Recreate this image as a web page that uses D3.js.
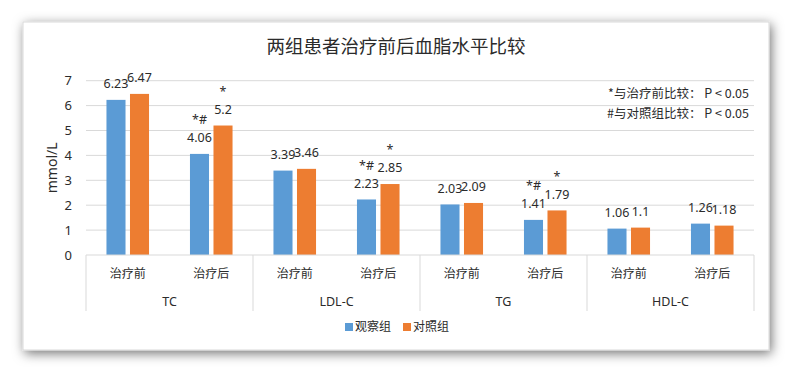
<!DOCTYPE html>
<html>
<head>
<meta charset="utf-8">
<script src="https://cdn.jsdelivr.net/npm/d3@7"></script>
<style>
  body { margin: 0; background: #fff; }
  svg text { font-family: "Segoe UI", "Noto Sans", "Noto Sans CJK SC", sans-serif; fill: #2b2b2b; }
  .cjk { font-family: "Noto Sans CJK SC", "Microsoft YaHei", sans-serif; }
</style>
</head>
<body>
<div id="chart"></div>
<script>
var w = 792;
var h = 373;

// data
var groups = ["TC", "LDL-C", "TG", "HDL-C"];
var phases = ["治疗前", "治疗后"];
var seriesNames = ["观察组", "对照组"];
var observe = [6.23, 4.06, 3.39, 2.23, 2.03, 1.41, 1.06, 1.26];
var control = [6.47, 5.2, 3.46, 2.85, 2.09, 1.79, 1.1, 1.18];
var observeMarks = ["", "*#", "", "*#", "", "*#", "", ""];
var controlMarks = ["", "*", "", "*", "", "*", "", ""];
var yTicks = [0, 1, 2, 3, 4, 5, 6, 7];
var notes = ["*与治疗前比较： P < 0.05", "#与对照组比较： P < 0.05"];
var colors = ["#5B9BD5", "#ED7D31"];

var box = {x: 23, y: 22, w: 746, h: 328};
var plot = {left: 86, right: 754, top: 80.7, bottom: 255};

var svg = d3.select("#chart")
            .append("svg")
            .attr("width", w)
            .attr("height", h);

// shadow for the chart box
var filter = svg.append("defs").append("filter")
    .attr("id", "shadow")
    .attr("x", "-10%").attr("y", "-10%")
    .attr("width", "120%").attr("height", "125%");
filter.append("feDropShadow")
    .attr("dx", 2).attr("dy", 3)
    .attr("stdDeviation", 6)
    .attr("flood-color", "#000")
    .attr("flood-opacity", 0.55);

svg.append("rect")
    .attr("x", box.x).attr("y", box.y)
    .attr("width", box.w).attr("height", box.h)
    .attr("fill", "#fff")
    .attr("stroke", "#d9d9d9")
    .attr("filter", "url(#shadow)");

// sub categories: group|phase
var subCats = [];
groups.forEach(function(g) {
    phases.forEach(function(p) { subCats.push(g + "|" + p); });
});

var rows = subCats.map(function(k, i) {
    return {key: k, group: k.split("|")[0], phase: k.split("|")[1],
            values: [observe[i], control[i]], marks: [observeMarks[i], controlMarks[i]]};
});

// scales
var xScale = d3.scaleBand()
    .domain(subCats)
    .range([plot.left, plot.right]);
var groupScale = d3.scaleBand()
    .domain(groups)
    .range([plot.left, plot.right]);
var innerScale = d3.scaleBand()
    .domain(seriesNames)
    .range([0, xScale.bandwidth()])
    .paddingInner(0.19)
    .paddingOuter(0.87);
var yScale = d3.scaleLinear()
    .domain([0, 7])
    .range([plot.bottom, plot.top]);

// gridlines
svg.append("g")
    .selectAll("line")
    .data(yTicks.slice(1))
    .enter()
    .append("line")
    .attr("x1", plot.left).attr("x2", plot.right)
    .attr("y1", function(d) { return yScale(d); })
    .attr("y2", function(d) { return yScale(d); })
    .attr("stroke", "#d9d9d9");

// y axis labels
var yAxis = d3.axisLeft(yScale)
    .tickValues(yTicks)
    .tickSize(0)
    .tickPadding(14)
    .tickFormat(d3.format("d"));
var yG = svg.append("g")
    .attr("transform", "translate(" + plot.left + ",0)")
    .call(yAxis);
yG.select(".domain").remove();
yG.selectAll("text").attr("font-size", 13).attr("fill", "#2b2b2b");

svg.append("text")
    .attr("transform", "translate(52," + (plot.top + plot.bottom) / 2 + ") rotate(-90)")
    .attr("text-anchor", "middle")
    .attr("dy", "0.35em")
    .attr("font-size", 14)
    .text("mmol/L");

// bars
var barG = svg.append("g")
    .selectAll("g")
    .data(rows)
    .enter()
    .append("g")
    .attr("transform", function(d) { return "translate(" + xScale(d.key) + ",0)"; });

barG.selectAll("rect")
    .data(function(d) { return d.values.map(function(v, j) { return {s: seriesNames[j], v: v, j: j}; }); })
    .enter()
    .append("rect")
    .attr("x", function(d) { return innerScale(d.s); })
    .attr("y", function(d) { return yScale(d.v); })
    .attr("width", innerScale.bandwidth())
    .attr("height", function(d) { return plot.bottom - yScale(d.v); })
    .attr("fill", function(d) { return colors[d.j]; });

// value labels
var labelG = barG.selectAll("g.lab")
    .data(function(d) { return d.values.map(function(v, j) { return {s: seriesNames[j], v: v, m: d.marks[j]}; }); })
    .enter()
    .append("g")
    .attr("class", "lab")
    .attr("transform", function(d) {
        return "translate(" + (innerScale(d.s) + innerScale.bandwidth() / 2) + "," + (yScale(d.v) - 16) + ")";
    });
labelG.append("text")
    .attr("text-anchor", "middle")
    .attr("dy", "0.35em")
    .attr("font-size", 12.5)
    .text(function(d) { return d.v; });
labelG.append("text")
    .attr("text-anchor", "middle")
    .attr("y", -18)
    .attr("dy", "0.35em")
    .attr("font-size", 12.5)
    .text(function(d) { return d.m; });

// category axis
svg.append("line")
    .attr("x1", plot.left).attr("x2", plot.right)
    .attr("y1", plot.bottom).attr("y2", plot.bottom)
    .attr("stroke", "#d9d9d9");
svg.append("g")
    .selectAll("line")
    .data(groups.concat(["end"]))
    .enter()
    .append("line")
    .attr("x1", function(d) { return d === "end" ? plot.right : groupScale(d); })
    .attr("x2", function(d) { return d === "end" ? plot.right : groupScale(d); })
    .attr("y1", plot.bottom)
    .attr("y2", 311)
    .attr("stroke", "#d9d9d9");

svg.append("g")
    .selectAll("text")
    .data(rows)
    .enter()
    .append("text")
    .attr("class", "cjk")
    .attr("x", function(d) { return xScale(d.key) + xScale.bandwidth() / 2; })
    .attr("y", 274)
    .attr("dy", "0.35em")
    .attr("text-anchor", "middle")
    .attr("font-size", 12)
    .text(function(d) { return d.phase; });

svg.append("g")
    .selectAll("text")
    .data(groups)
    .enter()
    .append("text")
    .attr("x", function(d) { return groupScale(d) + groupScale.bandwidth() / 2; })
    .attr("y", 302)
    .attr("dy", "0.35em")
    .attr("text-anchor", "middle")
    .attr("font-size", 12.5)
    .text(function(d) { return d; });

// title
svg.append("text")
    .attr("class", "cjk")
    .attr("x", 396)
    .attr("y", 47)
    .attr("dy", "0.35em")
    .attr("text-anchor", "middle")
    .attr("font-size", 18.5)
    .text("两组患者治疗前后血脂水平比较");

// notes
svg.append("g")
    .selectAll("text")
    .data(notes)
    .enter()
    .append("text")
    .attr("class", "cjk")
    .attr("x", 749)
    .attr("y", function(d, i) { return 94 + i * 19.5; })
    .attr("dy", "0.35em")
    .attr("text-anchor", "end")
    .attr("font-size", 12.5)
    .text(function(d) { return d; });

// legend
var legend = svg.append("g")
    .selectAll("g")
    .data(seriesNames)
    .enter()
    .append("g")
    .attr("transform", function(d, i) { return "translate(" + (345 + i * 58) + ",327)"; });
legend.append("rect")
    .attr("x", 0).attr("y", -4)
    .attr("width", 8).attr("height", 8)
    .attr("fill", function(d, i) { return colors[i]; });
legend.append("text")
    .attr("class", "cjk")
    .attr("x", 10)
    .attr("dy", "0.35em")
    .attr("font-size", 12)
    .text(function(d) { return d; });
</script>
</body>
</html>
